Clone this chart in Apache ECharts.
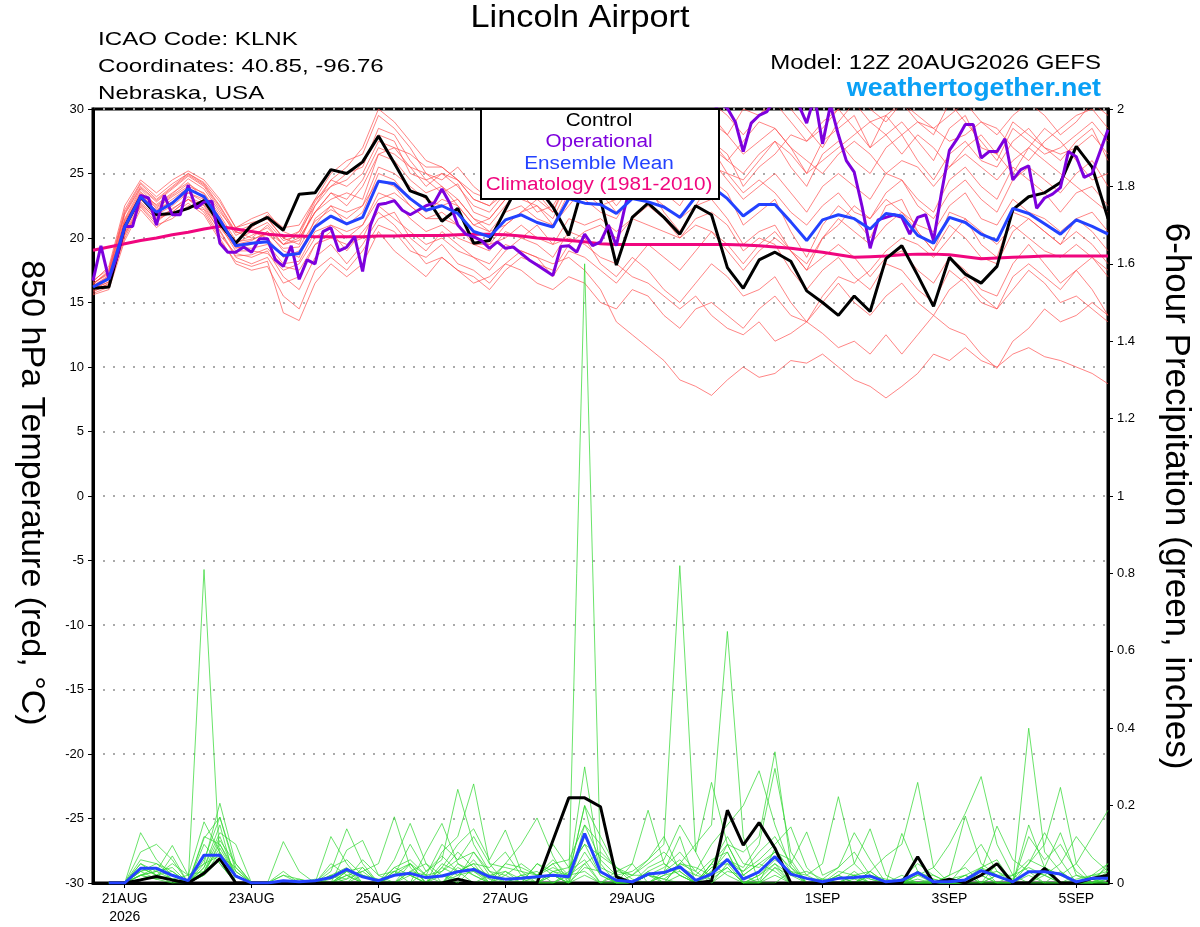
<!DOCTYPE html>
<html>
<head>
<meta charset="utf-8">
<script src="https://cdn.jsdelivr.net/npm/echarts@6/dist/echarts.min.js"></script>
<style>
html,body{margin:0;padding:0;background:#fff;}
#chart{width:1200px;height:927px;}
</style>
</head>
<body>
<div id="chart"></div>
<script>
// ---- time axis (hours after 12Z 20AUG2026) ----
const tickHours = [12, 60, 108, 156, 204, 276, 324, 372];
const tickLabels = ['21AUG\n2026', '23AUG', '25AUG', '27AUG', '29AUG', '1SEP', '3SEP', '5SEP'];
const stepHours = 6;      // ensemble output every 6 h
const opStepHours = 3;    // operational every 3 h

// ---- 850 hPa temperature (°C), 6-hourly, 65 points ----
const control = [16.1,16.2,20.85,23.2,21.8,21.9,22.3,22.9,21.1,19.6,21.0,21.6,20.6,23.4,23.5,25.3,25.0,25.9,27.9,25.8,23.65,23.2,21.3,22.3,19.6,19.8,22.2,24.5,24.0,22.4,20.2,24.5,23.0,17.9,21.6,22.7,21.6,20.3,22.5,21.8,17.7,16.1,18.3,18.9,18.2,15.9,15.0,14.0,15.5,14.3,18.4,19.4,17.1,14.7,18.5,17.2,16.5,17.8,22.2,23.2,23.5,24.3,27.1,25.5,21.5];
const ensMean = [16.2,16.85,20.85,23.2,22.0,22.7,23.8,23.2,21.4,19.4,19.6,19.7,18.65,18.8,20.85,21.7,21.1,21.6,24.4,24.2,23.05,22.15,22.5,21.9,20.5,20.1,21.4,21.8,21.2,20.85,23.05,22.7,22.6,21.9,23.05,22.8,22.4,21.6,23.2,24.0,23.05,21.7,22.6,22.6,21.25,19.8,21.4,21.8,21.5,20.7,21.9,21.7,20.2,19.6,21.6,21.2,20.3,19.8,22.3,21.9,21.1,20.3,21.4,20.9,20.3];
const climatology = [19.05,19.3,19.55,19.8,20.0,20.25,20.45,20.7,20.9,20.7,20.5,20.3,20.2,20.15,20.1,20.1,20.1,20.1,20.15,20.15,20.2,20.2,20.2,20.25,20.3,20.3,20.25,20.15,20.0,19.9,19.8,19.7,19.55,19.5,19.5,19.5,19.5,19.5,19.5,19.5,19.5,19.45,19.4,19.3,19.2,19.05,18.9,18.7,18.5,18.55,18.6,18.7,18.75,18.75,18.7,18.55,18.4,18.45,18.5,18.55,18.6,18.6,18.6,18.6,18.6];
// operational, 3-hourly, 129 points
const operational = [16.7,19.4,16.8,18.5,20.9,20.9,23.3,23.1,21.0,23.3,
21.8,21.8,24.1,22.3,22.8,22.85,19.6,18.9,18.9,19.3,
18.9,19.95,19.95,18.3,17.8,19.4,16.8,18.3,18.0,20.5,
20.8,19.0,19.3,20.1,17.4,21.0,22.6,22.7,22.9,22.15,
21.8,22.15,22.5,22.7,23.8,22.7,21.0,20.3,20.1,19.8,
19.2,19.7,19.2,19.3,18.8,18.3,17.9,17.5,17.1,19.35,
19.4,18.9,20.3,19.4,19.7,21.0,19.4,22.2,24.5,23.5,
25.0,26.0,25.0,26.5,27.0,28.0,27.5,29.0,29.5,30.5,
30.05,29.0,26.7,28.9,29.5,29.8,30.8,31.2,30.6,30.3,
28.9,31.0,27.3,30.3,28.0,26.0,25.1,22.4,19.2,21.4,
21.6,21.8,21.6,20.3,21.6,21.8,19.8,23.5,26.8,27.7,
28.8,28.8,26.2,26.7,26.7,27.7,24.5,25.3,25.6,22.3,
23.1,23.4,23.9,26.7,26.3,24.7,25.0,26.7,28.4];

// ensemble members (red), 6-hourly, 65 points each
const redMembers = [
[16.5,17.2,21.5,23.8,22.5,23.4,24.6,23.8,22.0,20.5,21.0,21.5,20.0,19.5,22.5,24.0,24.5,25.8,28.0,27.5,25.0,24.5,23.5,24.2,22.0,21.5,23.0,24.5,25.0,23.5,26.0,27.5,26.5,25.0,27.0,28.5,27.0,25.5,27.5,29.0,28.0,26.5,27.5,28.5,27.0,25.0,27.5,28.5,29.5,27.0,28.0,29.0,27.5,26.0,28.5,29.5,27.0,26.5,29.0,28.0,27.0,26.0,27.5,28.5,26.0],
[15.8,16.5,20.2,22.6,21.5,22.0,23.0,22.5,20.5,18.5,18.0,18.5,16.5,17.0,19.5,20.0,19.5,20.0,22.5,21.5,20.5,19.5,20.0,19.0,18.5,18.0,19.5,19.0,18.5,18.0,18.5,17.5,16.0,13.5,12.5,11.5,10.5,9.0,8.5,7.8,9.0,10.0,9.2,9.5,10.5,10.3,11.0,10.0,9.0,8.5,7.6,8.5,9.5,11.0,10.5,11.5,10.5,10.0,11.0,11.5,10.8,10.5,10.0,9.5,8.7],
[16.0,16.8,21.0,23.0,21.8,22.5,23.5,23.0,21.0,19.0,19.0,18.8,17.5,18.0,20.0,21.0,20.5,21.0,23.5,23.0,21.5,20.5,21.0,20.0,19.5,19.0,20.5,20.0,21.0,19.5,20.0,19.5,18.5,18.0,17.0,16.5,15.5,14.5,15.5,14.0,13.0,12.5,13.5,12.0,12.6,13.5,12.6,11.5,12.0,11.0,12.5,11.0,12.5,14.0,13.0,12.5,11.0,9.9,12.0,13.0,14.5,13.5,14.0,15.0,14.0],
[16.4,17.5,22.0,24.2,23.0,24.0,25.0,24.2,22.5,20.5,20.0,21.0,19.5,20.5,23.0,25.0,26.0,26.5,29.5,28.5,27.0,25.0,24.0,23.0,21.5,21.0,22.5,24.0,23.5,22.0,25.0,24.0,26.0,25.5,27.0,26.0,28.0,29.0,30.5,29.5,28.0,30.0,29.5,31.0,30.0,28.5,27.0,29.0,30.5,29.0,28.0,26.5,28.0,27.0,25.5,27.0,28.0,26.5,25.0,27.0,28.5,27.5,26.0,24.5,25.0],
[16.1,16.6,20.5,23.0,22.2,22.8,23.5,22.8,21.5,19.5,19.8,20.5,19.0,18.5,21.5,22.5,21.0,22.0,25.0,24.5,23.0,22.0,23.0,22.5,21.0,20.5,22.0,22.5,21.5,21.0,23.5,23.0,22.0,21.5,23.5,24.0,22.0,20.5,22.5,24.5,23.5,21.0,22.0,23.0,20.5,18.5,21.0,22.5,21.5,20.0,22.5,23.0,20.5,19.0,22.0,21.5,19.5,18.5,22.0,21.5,20.5,19.5,21.5,22.0,20.5],
[15.9,16.3,20.0,22.5,21.2,22.3,23.0,22.0,20.0,18.0,17.5,17.8,15.5,14.5,17.5,18.5,17.5,19.0,21.0,20.5,19.0,18.5,19.5,18.0,17.5,16.5,18.0,19.0,18.5,17.0,19.0,18.5,17.5,16.5,18.0,19.5,18.5,17.5,19.0,20.5,19.5,18.0,19.5,20.5,19.0,17.5,20.0,21.0,22.5,21.5,23.5,24.5,23.0,22.0,24.5,25.5,24.0,23.0,25.5,24.5,23.5,22.0,23.5,24.0,22.5],
[16.6,17.8,22.5,24.5,23.5,24.5,25.2,24.5,23.0,20.8,21.5,22.0,20.5,20.0,22.0,23.5,23.0,24.5,27.0,26.5,25.5,24.0,25.0,24.5,23.0,22.5,23.5,23.0,22.5,21.5,24.0,23.5,22.5,23.0,24.5,23.5,22.5,21.5,22.5,23.0,21.5,19.5,20.5,21.0,19.0,17.5,18.5,19.5,18.5,17.0,18.5,19.0,17.5,16.5,18.5,17.5,16.0,15.5,18.0,19.5,18.0,16.5,17.5,16.0,14.0],
[16.3,17.0,21.2,23.5,22.3,23.2,24.0,23.5,21.8,19.8,20.5,20.0,18.5,19.0,21.0,22.5,22.0,22.5,25.5,25.0,24.0,23.0,22.5,23.0,21.5,20.5,21.0,22.0,22.5,21.0,22.5,24.0,25.0,24.0,25.5,25.0,26.0,24.5,25.5,27.0,26.0,25.0,26.5,27.5,26.5,25.0,26.0,27.0,28.0,29.0,29.5,28.0,29.0,28.5,27.5,28.0,29.0,28.5,27.0,26.0,27.5,28.5,29.5,30.0,28.5],
[15.7,16.2,20.3,22.4,21.0,21.5,22.5,22.2,20.2,18.8,18.5,19.0,17.0,16.0,18.5,19.5,18.0,19.5,21.5,22.0,20.0,19.0,20.5,19.5,18.5,17.5,19.0,20.0,19.5,18.5,20.5,20.0,18.0,17.0,18.5,17.5,16.0,15.0,16.5,18.0,17.0,15.5,16.0,17.0,15.0,13.5,15.0,16.5,15.0,14.0,15.5,16.5,15.0,14.0,16.0,17.0,15.5,14.5,16.0,17.5,16.5,15.0,15.5,14.5,13.5],
[16.2,16.9,21.3,23.3,22.6,23.5,24.3,23.0,21.2,19.2,19.5,20.5,19.5,20.0,22.0,23.0,23.5,23.0,26.5,27.0,25.5,25.0,24.5,25.5,24.0,23.0,25.0,26.0,25.5,24.5,27.0,26.5,25.5,24.5,26.5,25.5,24.0,23.0,25.0,26.0,24.5,23.0,24.0,25.0,23.5,22.0,24.0,25.0,24.0,23.0,25.0,24.5,22.5,21.5,23.5,24.5,23.0,22.0,24.5,25.5,24.5,23.5,25.0,26.0,24.0],
[16.0,16.6,20.8,22.8,21.6,22.2,23.2,22.6,20.8,19.3,19.2,19.5,18.0,18.2,20.5,21.0,20.0,21.0,23.0,23.5,22.5,21.5,21.5,21.0,19.5,19.5,20.0,21.0,20.0,19.5,21.5,21.0,21.5,20.5,21.5,21.0,20.5,20.0,21.5,22.0,21.0,19.0,20.0,19.5,17.5,16.0,17.5,18.5,17.0,16.0,18.0,17.5,16.0,15.0,17.5,16.5,15.0,14.5,17.0,18.0,17.0,16.0,17.5,18.5,17.0],
[16.5,17.3,21.8,23.9,22.8,23.8,24.8,24.0,22.2,20.2,20.8,21.8,20.8,21.0,23.0,24.0,25.0,25.5,28.5,28.0,26.0,24.5,25.0,24.0,22.5,22.0,23.5,25.0,24.5,23.0,25.5,25.0,24.0,22.5,24.0,25.5,24.5,23.0,26.0,27.5,26.5,24.0,25.5,26.5,28.0,27.5,29.0,30.0,28.5,27.0,29.5,30.5,29.0,28.0,30.5,29.0,27.5,26.0,28.5,27.5,26.5,27.0,28.0,29.0,27.5],
[15.6,16.0,19.8,22.2,20.8,21.8,22.7,21.8,19.8,18.2,17.8,18.2,14.2,13.6,16.5,18.0,17.0,18.0,20.5,19.0,18.0,17.0,18.5,17.5,17.0,16.0,17.5,18.5,18.0,17.5,19.5,20.5,21.0,20.0,21.5,22.5,21.5,20.0,21.0,20.5,19.0,17.5,19.0,20.0,19.0,18.0,20.0,21.5,20.5,19.5,21.0,22.0,20.5,19.0,21.0,20.0,18.5,18.0,20.5,21.5,20.5,19.5,20.5,19.5,18.0],
[16.3,17.1,21.4,23.6,22.4,23.3,24.2,23.4,21.6,19.6,20.2,20.8,19.5,19.8,22.0,23.5,22.5,24.0,26.5,26.0,24.5,23.5,24.0,22.5,21.0,21.5,23.0,23.5,22.0,22.5,24.5,23.5,24.5,23.5,25.0,24.0,23.5,22.5,24.5,25.5,25.0,23.5,24.5,23.5,22.0,21.0,22.5,23.5,22.0,21.5,23.0,22.0,21.0,20.5,22.5,23.5,21.5,21.0,23.0,22.0,21.5,20.5,21.5,20.5,19.0],
[16.0,16.4,20.4,22.7,21.4,22.0,23.0,22.3,20.6,18.6,18.7,19.2,17.8,17.5,19.5,20.5,19.0,20.5,22.0,21.0,19.5,18.0,18.5,17.5,16.5,17.0,18.0,17.5,16.5,16.0,17.0,16.5,15.0,14.5,16.0,15.5,14.0,13.0,14.5,15.0,14.0,13.0,14.5,15.5,14.0,13.5,15.5,17.0,16.5,17.5,19.0,20.0,19.5,18.5,20.0,21.5,20.5,19.5,21.0,20.0,19.0,18.5,19.5,18.5,17.5],
[16.7,17.6,22.2,24.3,23.2,24.2,25.0,24.3,22.8,20.8,21.2,21.5,20.0,20.5,22.5,24.5,24.0,25.0,27.5,27.0,26.5,25.5,25.5,24.5,23.5,23.0,24.5,25.5,24.5,23.5,26.5,25.5,23.5,22.0,23.0,24.5,25.5,26.5,28.0,27.5,26.0,27.5,29.0,28.5,27.0,26.0,25.0,26.5,27.5,26.5,25.0,26.0,25.5,24.0,25.5,26.5,25.5,24.5,26.0,27.0,26.0,25.0,24.0,23.0,22.0],
[16.4,17.4,21.9,24.0,22.9,23.9,24.9,24.1,22.4,20.4,20.6,21.2,19.8,20.2,22.8,24.5,25.5,27.0,30.0,29.0,27.5,26.0,25.5,24.5,23.0,22.5,24.0,25.0,26.0,24.5,27.5,28.5,27.0,26.0,28.0,29.5,28.5,27.0,28.5,30.5,29.5,28.0,29.5,30.5,29.0,27.5,28.5,30.0,31.0,30.0,29.0,30.5,29.5,28.5,29.5,30.5,29.0,28.0,29.5,30.5,29.5,28.0,29.0,30.5,29.5],
[16.2,17.0,21.1,23.4,22.1,23.0,23.9,23.1,21.3,19.7,19.9,20.3,19.2,19.3,21.3,22.2,21.5,22.5,24.5,24.0,22.5,21.5,22.0,21.0,20.0,19.5,21.0,22.0,23.0,22.0,24.5,25.5,26.5,25.5,26.5,27.5,26.5,25.0,26.5,27.0,25.0,24.5,26.0,27.5,25.5,24.0,26.5,27.5,26.0,25.0,27.0,28.0,26.0,24.5,26.5,27.5,26.0,25.5,27.5,28.5,27.0,26.5,27.0,28.0,26.5]
];

// ---- 6-hour precipitation (inches), periods ending at 6 h ... 384 h (64 values) ----
const precipControl = [0,0,0.008,0.017,0.008,0,0.025,0.063,0,0,
0,0,0,0,0,0,0,0,0,0,
0,0,0.01,0,0,0,0,0,0.11,0.22,
0.22,0.197,0.016,0,0,0,0,0,0.005,0.188,
0.098,0.156,0.09,0,0,0,0,0,0,0,
0,0.068,0,0.01,0,0.02,0.05,0,0,0.038,
0,0,0.012,0.02];
const precipMean = [0,0,0.038,0.038,0.02,0.006,0.072,0.072,0.018,0,
0,0.006,0.003,0.006,0.014,0.035,0.016,0.006,0.02,0.025,
0.014,0.018,0.029,0.035,0.016,0.01,0.012,0.016,0.02,0.016,
0.128,0.029,0.007,0.003,0.023,0.027,0.042,0.007,0.023,0.061,
0.01,0.029,0.068,0.023,0.012,0.003,0.012,0.014,0.018,0.003,
0.007,0.027,0.003,0.003,0.008,0.032,0.018,0.003,0.029,0.029,
0.023,0.003,0.012,0.012];
const greenMembers = [
[0,0,0.05,0.02,0,0,0.03,0.12,0.02,0, 0,0,0,0,0.02,0.04,0,0,0.02,0.05, 0,0.03,0.08,0.04,0,0,0,0.02,0.05,0, 1.60,0.05,0,0,0.02,0.01,0,0,0.03,0.08, 0,0.02,0.05,0,0,0,0,0.01,0,0, 0,0.02,0,0,0,0.04,0,0,0.02,0, 0,0,0,0.01],
[0,0,0.03,0.01,0.02,0,0.81,0.05,0,0, 0,0.02,0,0,0,0.01,0.03,0,0,0.02, 0,0,0.02,0.06,0.01,0,0,0,0.03,0.01, 0.08,0.02,0,0,0,0.03,0.12,0,0.05,0.02, 0,0,0.09,0.03,0,0,0.02,0,0,0, 0.01,0,0,0,0.02,0,0,0,0,0.03, 0,0,0.02,0.05],
[0,0,0.02,0.04,0.01,0,0.06,0.17,0.03,0, 0,0,0,0,0.05,0.02,0,0,0,0.03, 0.02,0,0.04,0.02,0,0.03,0.01,0,0.02,0, 0.12,0.03,0,0.02,0.06,0.1,0.82,0.08,0,0.03, 0.02,0,0.02,0,0,0,0.03,0.02,0,0, 0,0,0.01,0,0,0.02,0,0,0,0.04, 0.02,0,0,0],
[0,0,0.13,0.06,0.02,0,0.02,0.08,0,0, 0,0,0,0.01,0,0,0.02,0,0.03,0, 0,0.05,0.03,0,0.02,0,0,0.05,0.02,0, 0.05,0,0.02,0,0.03,0,0.05,0.1,0.15,0.65, 0.12,0,0.04,0.02,0,0,0,0,0.02,0, 0,0.03,0,0,0.02,0,0.05,0,0,0.02, 0,0,0,0.03],
[0,0,0.08,0.1,0.06,0,0.1,0.05,0,0, 0,0,0,0,0,0.02,0,0,0,0.05, 0,0.08,0.12,0.256,0.05,0,0.02,0,0,0.03, 0.06,0,0,0,0,0.02,0.03,0,0.05,0.1, 0.08,0.12,0.339,0.05,0,0,0,0,0.03,0, 0,0,0,0,0,0.03,0.02,0,0,0, 0,0.02,0.01,0],
[0,0,0.04,0.02,0.03,0,0.05,0.206,0.05,0, 0,0.02,0.01,0,0,0.03,0.04,0,0,0, 0.03,0.06,0.242,0.1,0.03,0,0,0,0.02,0, 0.02,0,0.03,0.05,0,0,0.02,0,0.04,0.05, 0,0,0,0.03,0,0,0,0.03,0,0, 0.02,0,0,0,0.05,0.1,0.03,0,0.40,0.08, 0.03,0,0,0.05],
[0,0,0.06,0.05,0.03,0,0.04,0.15,0,0, 0,0,0,0,0.12,0.05,0,0,0,0, 0,0,0.03,0.05,0,0.05,0.1,0.168,0.07,0, 0.04,0.03,0,0.05,0.188,0.05,0.02,0,0.02,0.04, 0,0,0.04,0,0,0,0,0,0.03,0.07, 0.1,0.26,0.04,0,0,0.02,0,0,0,0, 0.03,0,0.02,0.02],
[0,0,0.02,0.01,0.07,0,0.03,0.1,0.02,0, 0,0,0,0,0,0.02,0.03,0.05,0.171,0.04, 0,0.02,0,0.04,0.02,0.03,0,0,0,0.02, 0.2,0.03,0,0,0.04,0.06,0.15,0.08,0.26,0.1, 0.02,0.05,0.03,0,0,0,0.02,0,0,0, 0,0.02,0.04,0.1,0.18,0.275,0.1,0.02,0,0.03, 0,0,0,0],
[0,0,0.03,0.04,0.02,0,0.12,0.1,0.03,0, 0,0.107,0.03,0,0,0,0,0,0.06,0.154, 0.05,0,0.05,0.02,0,0.02,0,0,0.03,0.04, 0.1,0.02,0,0,0.02,0,0.05,0.03,0.1,0.15, 0.2,0.29,0.15,0.04,0,0,0,0.02,0,0, 0,0,0,0,0,0,0.02,0,0.05,0.1, 0.247,0.05,0,0],
[0,0,0.02,0.03,0.097,0.02,0.158,0.08,0.02,0, 0,0,0,0,0,0.085,0.11,0.02,0,0, 0.08,0.154,0.05,0.03,0,0,0.02,0.03,0,0, 0.15,0.06,0.02,0.03,0.06,0.12,0.03,0,0.04,0.06, 0.04,0.1,0.296,0.08,0.02,0.05,0.223,0.05,0.01,0, 0,0.03,0,0,0,0,0.02,0,0.03,0, 0,0,0,0.02],
[0,0,0.05,0.03,0.04,0,0.115,0.17,0.04,0, 0,0,0,0,0.03,0.14,0.05,0,0.03,0.02, 0,0.04,0.1,0.14,0.06,0.137,0.03,0,0,0.02, 0.03,0,0,0,0.02,0.04,0.08,0.03,0,0.05, 0.03,0.06,0.1,0.145,0.04,0,0.02,0.05,0.14,0.02, 0,0,0,0.02,0.04,0,0,0.02,0.06,0.04, 0.02,0.05,0.12,0.188],
[0,0,0.04,0.02,0.01,0,0.04,0.13,0.1,0, 0,0.03,0,0,0.02,0,0.04,0,0.04,0.06, 0.02,0.1,0.06,0.08,0.03,0.02,0.05,0.02,0.04,0.02, 0.05,0.08,0.04,0,0.03,0.05,0.02,0,0.03,0.06, 0.03,0.08,0.12,0.05,0.132,0.02,0.04,0.13,0.06,0, 0.128,0.03,0,0.02,0.173,0.05,0.02,0,0.15,0.04, 0.13,0.02,0,0.02],
[0,0,0.02,0.01,0,0.01,0.02,0.06,0,0, 0,0,0,0,0,0.03,0.02,0.01,0,0.03, 0.05,0.02,0.01,0.08,0.02,0.01,0,0.05,0.03,0.02, 0.3,0.04,0.02,0,0.02,0.01,0.04,0.02,0.06,0.08, 0,0.02,0.06,0.03,0.02,0,0,0.02,0.01,0, 0,0.02,0.02,0,0,0.03,0.147,0.06,0.03,0.02, 0.05,0.12,0.066,0.03],
[0,0,0.01,0.02,0.05,0.02,0.03,0.09,0.02,0, 0,0,0.01,0,0.04,0.06,0.02,0,0.02,0.1, 0.03,0.07,0.03,0.05,0.04,0.08,0.02,0.01,0.1,0.04, 0.1,0.07,0.04,0.02,0.05,0.08,0.04,0,0.05,0.12, 0.05,0.04,0.08,0.06,0,0.01,0.04,0.08,0.02,0, 0.01,0.05,0.02,0,0.01,0.04,0.06,0,0.12,0.06, 0.1,0.03,0,0.01],
[0,0,0.03,0.05,0.02,0,0.02,0.11,0.05,0, 0,0,0,0,0.01,0.03,0,0,0.04,0.02, 0,0.04,0.02,0.03,0.01,0.05,0.04,0.02,0.05,0.06, 0.15,0.1,0.03,0.02,0.02,0.03,0.06,0.02,0.01,0.04, 0,0.01,0.05,0.02,0.03,0.01,0,0,0.02,0.01, 0,0.03,0.01,0,0,0.02,0.03,0.01,0.05,0.13, 0.06,0,0.01,0.04],
[0,0,0.02,0.03,0.01,0.02,0.05,0.07,0.04,0, 0,0,0,0,0.02,0.01,0.06,0.02,0.03,0.05, 0.02,0.03,0.06,0.12,0.05,0.04,0.03,0.02,0.06,0.02, 0.2,0.12,0.04,0.01,0,0.02,0.05,0.04,0.02,0.1, 0.02,0.05,0.08,0.04,0.01,0.01,0.01,0.02,0.03,0, 0,0.01,0,0.01,0.02,0.04,0.02,0.02,0.04,0.02, 0,0.01,0.02,0.03]
];

// ---- build chart ----
const FONT = '"Liberation Sans", Arial, Helvetica, sans-serif';
function toPairs(arr, step, offset) {
  return arr.map((v, i) => [offset + i * step, v]);
}
const series = [];
redMembers.forEach((m) => {
  series.push({ type: 'line', data: toPairs(m, stepHours, 0), yAxisIndex: 0,
    symbol: 'none', silent: true, z: 1,
    lineStyle: { color: '#ff4a4a', width: 0.8, opacity: 0.85 } });
});
greenMembers.forEach((m) => {
  series.push({ type: 'line', data: toPairs(m, stepHours, stepHours), yAxisIndex: 1,
    symbol: 'none', silent: true, z: 2,
    lineStyle: { color: '#2fd82f', width: 0.8, opacity: 0.9 } });
});
series.push({ type: 'line', name: 'Climatology', data: toPairs(climatology, stepHours, 0), yAxisIndex: 0,
  symbol: 'none', z: 3, lineStyle: { color: '#f0067e', width: 3 } });
series.push({ type: 'line', name: 'Control', data: toPairs(control, stepHours, 0), yAxisIndex: 0,
  symbol: 'none', z: 4, lineStyle: { color: '#000000', width: 3 } });
series.push({ type: 'line', name: 'Operational', data: toPairs(operational, opStepHours, 0), yAxisIndex: 0,
  symbol: 'none', z: 5, lineStyle: { color: '#7d00dd', width: 3 } });
series.push({ type: 'line', name: 'Ensemble Mean', data: toPairs(ensMean, stepHours, 0), yAxisIndex: 0,
  symbol: 'none', z: 6, lineStyle: { color: '#2342ff', width: 3 } });
series.push({ type: 'line', name: 'Control precip', data: toPairs(precipControl, stepHours, stepHours), yAxisIndex: 1,
  symbol: 'none', z: 4, lineStyle: { color: '#000000', width: 3 } });
series.push({ type: 'line', name: 'Mean precip', data: toPairs(precipMean, stepHours, stepHours), yAxisIndex: 1,
  symbol: 'none', z: 6, lineStyle: { color: '#2342ff', width: 3 } });

function txt(x, y, text, size, opts) {
  opts = opts || {};
  return { type: 'text', x: x, y: y, z: opts.z || 50, rotation: opts.rotation || 0, scaleX: opts.scaleX || 1,
    style: { text: text, fontSize: size, fontFamily: FONT, fontWeight: opts.bold ? 'bold' : 'normal',
      fill: opts.color || '#000', textAlign: opts.align || 'left', textVerticalAlign: 'middle' } };
}

const chart = echarts.init(document.getElementById('chart'), null, { renderer: 'canvas' });
chart.setOption({
  animation: false,
  backgroundColor: '#ffffff',
  textStyle: { fontFamily: FONT },
  grid: { left: 93, right: 92, top: 109, bottom: 44, show: true,
    borderColor: '#000', borderWidth: 3, backgroundColor: 'transparent' },
  xAxis: {
    type: 'value', min: 0, max: 384,
    axisLine: { show: true, onZero: false, lineStyle: { color: '#000', width: 3 } },
    axisTick: { show: true, customValues: tickHours, length: 5, lineStyle: { color: '#000', width: 1 } },
    axisLabel: { customValues: tickHours, color: '#000', fontSize: 14, fontFamily: FONT, margin: 7,
      lineHeight: 18,
      formatter: (v) => { const k = tickHours.indexOf(v); return k >= 0 ? tickLabels[k] : ''; } },
    splitLine: { show: false }
  },
  yAxis: [
    { type: 'value', min: -30, max: 30, interval: 5, position: 'left',
      axisLine: { show: true, onZero: false, lineStyle: { color: '#000', width: 3 } },
      axisTick: { show: true, length: 5, lineStyle: { color: '#000', width: 1 } },
      axisLabel: { color: '#000', fontSize: 13, fontFamily: FONT, margin: 9 },
      splitLine: { show: true, lineStyle: { color: '#aaaaaa', width: 2, type: [2, 8] } } },
    { type: 'value', min: 0, max: 2, interval: 0.2, position: 'right',
      axisLine: { show: true, onZero: false, lineStyle: { color: '#000', width: 3 } },
      axisTick: { show: true, length: 5, lineStyle: { color: '#000', width: 1 } },
      axisLabel: { color: '#000', fontSize: 13, fontFamily: FONT, margin: 9 },
      splitLine: { show: false } }
  ],
  series: series,
  graphic: [
    txt(580, 18, 'Lincoln Airport', 32, { align: 'center', scaleX: 1.07 }),
    txt(98, 39.5, 'ICAO Code: KLNK', 19, { scaleX: 1.27 }),
    txt(98, 67, 'Coordinates: 40.85, -96.76', 19, { scaleX: 1.27 }),
    txt(98, 94, 'Nebraska, USA', 19, { scaleX: 1.27 }),
    txt(1101, 63, 'Model: 12Z 20AUG2026 GEFS', 20, { align: 'right', scaleX: 1.2 }),
    txt(1101, 89, 'weathertogether.net', 25, { align: 'right', bold: true, color: '#0aa0f5', scaleX: 1.07 }),
    txt(31, 493, '850 hPa Temperature (red, °C)', 34, { align: 'center', rotation: -Math.PI / 2 }),
    txt(1176, 496, '6-hour Precipitation (green, inches)', 35, { align: 'center', rotation: -Math.PI / 2 }),
    { type: 'rect', z: 100, shape: { x: 481, y: 109, width: 238, height: 90 }, style: { fill: '#fff', stroke: '#000', lineWidth: 2 } },
    txt(599, 121, 'Control', 18, { align: 'center', scaleX: 1.15, z: 101 }),
    txt(599, 142, 'Operational', 18, { align: 'center', scaleX: 1.15, z: 101, color: '#7d00dd' }),
    txt(599, 164, 'Ensemble Mean', 18, { align: 'center', scaleX: 1.15, z: 101, color: '#2342ff' }),
    txt(599, 185, 'Climatology (1981-2010)', 18, { align: 'center', scaleX: 1.15, z: 101, color: '#f0067e' })
  ]
});
</script>
</body>
</html>
